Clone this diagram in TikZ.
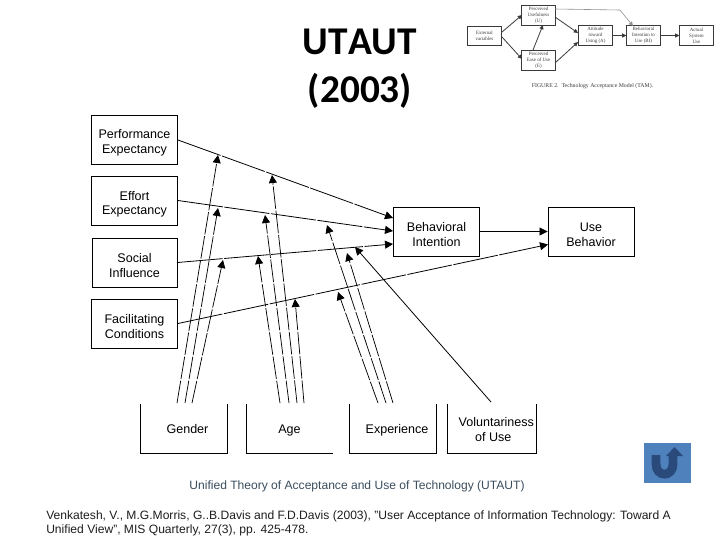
\documentclass[tikz,border=0pt]{standalone}
\usepackage{fontspec}
\setmainfont{Liberation Sans}
\newfontfamily\titlefont[Kerning=Off]{Carlito}
\newfontfamily\insetfont{Liberation Serif}
\usetikzlibrary{arrows.meta,positioning,calc}
\definecolor{capcol}{HTML}{3C4E5E}
\definecolor{citecol}{HTML}{1E1E1E}
\definecolor{iconbg}{HTML}{4F81BD}
\definecolor{iconfg}{HTML}{2A4A7C}
\definecolor{insetcol}{HTML}{3A3A3A}
\newcommand{\dnstrut}{\rule{0pt}{11.3pt}}
\newcommand{\oneline}[1]{\raisebox{-4.1pt}[0pt][0pt]{#1}}
\tikzset{
  x=0.75pt,y=-0.75pt,
  boxnode/.style={draw=black,line width=0.7pt,align=center,font=\fontsize{9.4}{11}\selectfont,inner sep=0pt,minimum width=64.5pt,minimum height=36.75pt},
  opennode/.style={align=center,font=\fontsize{9.4}{11}\selectfont,inner sep=0pt,minimum width=64.5pt,minimum height=36.75pt},
  openedge/.style={line width=0.7pt},
  mainline/.style={line width=0.6pt,-{Triangle[length=6pt,width=6pt]},dash pattern=on 34pt off 1.2pt},
  solidline/.style={line width=0.6pt,-{Triangle[length=6pt,width=6pt]}},
  modline/.style={line width=0.55pt,-{Triangle[length=6pt,width=6pt]},dash pattern=on 17pt off 1.3pt},
  insetbox/.style={draw=insetcol,line width=0.55pt,align=center,text=insetcol,font=\insetfont\fontsize{3.7}{4.4}\selectfont,inner sep=0pt},
  insetline/.style={draw=insetcol,line width=0.6pt,-{Triangle[length=3.2pt,width=3pt]}}
}
\begin{document}
\begin{tikzpicture}
\useasboundingbox (0,0) rectangle (720,540);
\fill[white] (0,0) rectangle (720,540);
% title
\node[font=\titlefont\bfseries\fontsize{29.5}{36}\selectfont,align=center,inner sep=0pt] (title) at (360,69) {UTAUT\\(2003)};
% TAM inset
\node[insetbox,minimum width=26pt,minimum height=14.5pt] (ev) at (484.5,36) {External\\variables};
\node[insetbox,minimum width=25pt,minimum height=15pt] (pu) at (538.5,15) {Perceived\\Usefulness\\(U)};
\node[insetbox,minimum width=25pt,minimum height=15pt] (pe2) at (538.5,60) {Perceived\\Ease of Use\\(E)};
\node[insetbox,minimum width=26pt,minimum height=14.5pt] (at) at (595.5,35.5) {Attitude\\toward\\Using (A)};
\node[insetbox,minimum width=25pt,minimum height=14.5pt] (bi2) at (643.5,35.5) {Behavioral\\Intention to\\Use (BI)};
\node[insetbox,minimum width=25pt,minimum height=14.5pt] (as) at (696.5,35.5) {Actual\\System\\Use};
\node[text=insetcol,font=\insetfont\fontsize{4.35}{5}\selectfont,inner sep=0pt] (figcap) at (592.5,86) {FIGURE 2.\ \ Technology Acceptance Model (TAM).};
\coordinate (evA) at (502,32); \coordinate (evB) at (502,37);
\coordinate (puA) at (522,15); \coordinate (peA) at (522,59);
\coordinate (peU) at (533,50); \coordinate (puD) at (543,25);
\coordinate (puR) at (555,17); \coordinate (atA) at (578,33);
\coordinate (peR) at (555,63); \coordinate (atB) at (578,42);
\coordinate (puT) at (555,9); \coordinate (elb) at (620,10); \coordinate (biT) at (633,26);
\draw[insetline] (evA) -- (puA);
\draw[insetline] (evB) -- (peA);
\draw[insetline] (peU) -- (puD);
\draw[insetline] (puR) -- (atA);
\draw[insetline] (peR) -- (atB);
\draw[insetline] (at.east) -- (bi2.west);
\draw[insetline] (bi2.east) -- (as.west);
\draw[insetline,draw=insetcol!55,line width=0.45pt] (puT) -- (elb) -- (biT);
% main boxes
\node[boxnode] (perf) at (134.5,140) {\dnstrut Performance\\Expectancy};
\node[boxnode] (eff) at (134.5,200.5) {\rule{0pt}{12.4pt}Effort\\Expectancy};
\node[boxnode,minimum width=63.75pt] (soc) at (134.5,262.5) {\dnstrut Social\\Influence};
\node[boxnode] (fac) at (134.5,323.5) {\dnstrut Facilitating\\Conditions};
\node[boxnode] (bi) at (436.5,231.5) {\dnstrut Behavioral\\Intention};
\node[boxnode] (use) at (591,231.5) {\dnstrut Use\\Behavior};
% moderators (open top)
\node[opennode] (gen) at (184,428.5) {\hspace*{5.2pt}\oneline{Gender}};
\node[opennode] (age) at (289.5,428.5) {\oneline{Age}};
\node[opennode] (exp) at (393,428.5) {\hspace*{6pt}\oneline{Experience}};
\node[opennode,minimum width=66pt] (vol) at (492,428.5) {\hspace*{6.5pt}\rule{0pt}{8.8pt}Voluntariness\\\hspace*{2pt}of Use};
\draw[openedge] (gen.north west) -- (gen.south west) -- (gen.south east) -- (gen.north east);
\draw[openedge] (age.north west) -- (age.south west) -- (age.south east);
\draw[openedge] (exp.north west) -- (exp.south west) -- (exp.south east) -- (exp.north east);
\draw[openedge] (vol.north west) -- (vol.south west) -- (vol.south east) -- (vol.north east);
% arrow ends on Behavioral Intention / Use Behavior
\coordinate (biA) at (393,218);
\coordinate (biB) at (393,231);
\coordinate (biC) at (393,244);
\coordinate (useB) at (548,244.5);
\draw[mainline] (perf.east) -- (biA);
\draw[mainline] (eff.east) -- (biB);
\draw[mainline] (soc.east) -- (biC);
\draw[mainline] (fac.east) -- (useB);
\draw[solidline] (bi.east) -- (use.west);
% moderator tips on the main lines
\coordinate (g1) at (218,155); \coordinate (g2) at (218,208); \coordinate (g3) at (223,260);
\coordinate (a1) at (272,175); \coordinate (a2) at (265,215); \coordinate (a3) at (258,256); \coordinate (a4) at (295,299);
\coordinate (e1) at (327,225); \coordinate (e2) at (347,253); \coordinate (e3) at (338,292);
\coordinate (v1) at (355,247);
% moderator starts
\coordinate (gs1) at (177,403); \coordinate (gs2) at (185,403); \coordinate (gs3) at (192,403);
\coordinate (as1) at (280,403); \coordinate (as2) at (289,403); \coordinate (as3) at (297,403); \coordinate (as4) at (304,403);
\coordinate (es1) at (378,403); \coordinate (es2) at (386,403); \coordinate (es3) at (393,403);
\coordinate (vs1) at (491,402);
\draw[modline] (gs1) -- (g1);
\draw[modline] (gs2) -- (g2);
\draw[modline] (gs3) -- (g3);
\draw[modline] (as1) -- (a3);
\draw[modline] (as2) -- (a2);
\draw[modline] (as3) -- (a1);
\draw[modline] (as4) -- (a4);
\draw[modline] (es1) -- (e3);
\draw[modline] (es2) -- (e1);
\draw[modline] (es3) -- (e2);
\draw[solidline] (vs1) -- (v1);
% captions
\node[text=capcol,font=\fontsize{9.05}{11}\selectfont,inner sep=0pt] (cap) at (357,486.5) {Unified Theory of Acceptance and Use of Technology (UTAUT)};
\node[text=citecol,font=\fontsize{9.07}{11.2}\selectfont,inner sep=0pt,align=left,anchor=north west] (cite) at (46,510) {Venkatesh, V., M.G.Morris, G..B.Davis and F.D.Davis (2003), "User Acceptance of Information Technology: Toward A\\Unified View", MIS Quarterly, 27(3), pp. 425-478.};
% return icon
\fill[iconbg] (644,443) rectangle (691,483);
\draw[iconfg,line width=6.6pt] (656,455) -- (656,464) .. controls (656,477.5) and (673,477.5) .. (673,464) -- (673,455);
\fill[iconfg] (666,456) -- (674.5,447) -- (683,456) -- cycle;
\end{tikzpicture}
\end{document}
